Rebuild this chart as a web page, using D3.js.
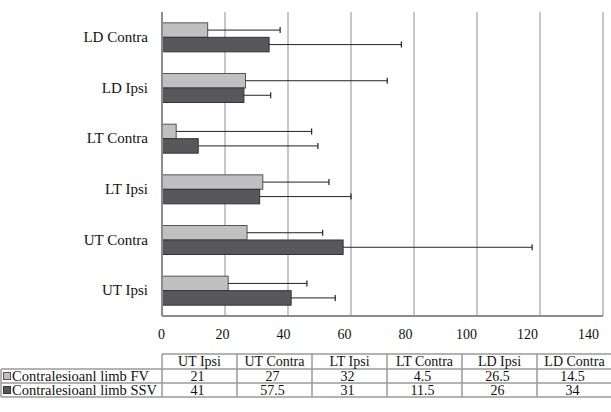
<!DOCTYPE html>
<meta charset="utf-8">
<style>
  body { margin: 0; background: #fff; }
  text { font-family: "Liberation Serif", "Times New Roman", serif; fill: #111; }
</style>
<body>
  <script src="https://cdn.jsdelivr.net/npm/d3@7"></script>
  <script>
    // data
    var categories = ["UT Ipsi", "UT Contra", "LT Ipsi", "LT Contra", "LD Ipsi", "LD Contra"];
    var seriesNames = ["Contralesioanl limb FV", "Contralesioanl limb SSV"];
    var fvValues = [21, 27, 32, 4.5, 26.5, 14.5];
    var ssvValues = [41, 57.5, 31, 11.5, 26, 34];
    var fvErr = [25, 24, 21, 43, 45, 23];
    var ssvErr = [14, 60, 29, 38, 8.5, 42];
    var xTicks = [0, 20, 40, 60, 80, 100, 120, 140];
    var colors = ["#c0c0c0", "#58585c"];
    var strokes = ["#555555", "#333333"];

    var width = 611, height = 412;
    var plot = { left: 162, right: 603, top: 12, bottom: 316 };

    var svg = d3.select("body").append("svg")
      .attr("width", width)
      .attr("height", height);

    var x = d3.scaleLinear().domain([0, 140]).range([plot.left, plot.right]);
    // tick labels sit a little left of the gridlines in the original
    var xLabel = d3.scaleLinear().domain([0, 140]).range([161, 588]);

    var y = d3.scaleBand()
      .domain(categories.slice().reverse())
      .range([plot.top, plot.bottom])
      .paddingInner(0.4276)
      .paddingOuter(0.2138);

    var ySub = d3.scaleBand().domain([0, 1]).range([0, y.bandwidth()]);

    // gridlines
    svg.append("g")
      .selectAll("line")
      .data(xTicks.slice(1))
      .enter().append("line")
      .attr("x1", function(d) { return x(d); })
      .attr("x2", function(d) { return x(d); })
      .attr("y1", plot.top)
      .attr("y2", plot.bottom)
      .style("stroke", "#b4b4b4")
      .style("stroke-width", 1.5);

    // x axis labels
    var xAxis = svg.append("g")
      .attr("transform", "translate(0," + (plot.bottom + 10) + ")")
      .call(d3.axisBottom(xLabel).tickValues(xTicks).tickSize(0).tickPadding(0));
    xAxis.select(".domain").remove();
    xAxis.selectAll("text")
      .attr("dy", "0.95em")
      .style("font-size", "14px")
      .style("font-family", "'Liberation Serif', serif")
      .style("fill", "#111");

    // y axis labels
    var yAxis = svg.append("g")
      .attr("transform", "translate(" + (plot.left - 14) + ",0)")
      .call(d3.axisLeft(y).tickSize(0).tickPadding(0));
    yAxis.select(".domain").remove();
    yAxis.selectAll("text")
      .style("font-size", "15px")
      .style("font-family", "'Liberation Serif', serif")
      .style("fill", "#111");

    var series = [
      { values: fvValues, err: fvErr },
      { values: ssvValues, err: ssvErr }
    ];

    series.forEach(function(s, si) {
      var g = svg.append("g");
      var rows = categories.map(function(c, i) {
        return { cat: c, v: s.values[i], e: s.err[i] };
      });

      g.selectAll("rect")
        .data(rows)
        .enter().append("rect")
        .attr("x", x(0))
        .attr("y", function(d) { return y(d.cat) + ySub(si); })
        .attr("width", function(d) { return x(d.v) - x(0); })
        .attr("height", ySub.bandwidth())
        .style("fill", colors[si])
        .style("stroke", strokes[si])
        .style("stroke-width", 1);

      var eb = g.selectAll(".err")
        .data(rows)
        .enter().append("g")
        .attr("class", "err")
        .attr("transform", function(d) {
          return "translate(0," + (y(d.cat) + ySub(si) + ySub.bandwidth() / 2) + ")";
        });

      eb.append("line")
        .attr("x1", function(d) { return x(d.v); })
        .attr("x2", function(d) { return x(d.v + d.e); })
        .style("stroke", "#222")
        .style("stroke-width", 1);

      eb.append("line")
        .attr("x1", function(d) { return x(d.v + d.e); })
        .attr("x2", function(d) { return x(d.v + d.e); })
        .attr("y1", -3)
        .attr("y2", 3)
        .style("stroke", "#222")
        .style("stroke-width", 1.2);
    });

    // axis lines
    svg.append("line")
      .attr("x1", plot.left).attr("x2", plot.left)
      .attr("y1", plot.top).attr("y2", plot.bottom)
      .style("stroke", "#8c8c8c").style("stroke-width", 2);
    svg.append("line")
      .attr("x1", plot.left).attr("x2", plot.right)
      .attr("y1", plot.bottom).attr("y2", plot.bottom)
      .style("stroke", "#8c8c8c").style("stroke-width", 2);

    // data table
    var colW = 75;
    var rowY = [354, 369, 383, 397];
    var tbl = svg.append("g");
    var lineStyle = function(sel) {
      sel.style("stroke", "#9a9a9a").style("stroke-width", 1.5);
    };

    // horizontal lines
    tbl.append("line").attr("x1", plot.left).attr("x2", plot.left + colW * 6)
      .attr("y1", rowY[0]).attr("y2", rowY[0]).call(lineStyle);
    [1, 2, 3].forEach(function(r) {
      tbl.append("line").attr("x1", 1).attr("x2", plot.left + colW * 6)
        .attr("y1", rowY[r]).attr("y2", rowY[r]).call(lineStyle);
    });
    // vertical lines
    tbl.append("line").attr("x1", 1).attr("x2", 1)
      .attr("y1", rowY[1]).attr("y2", rowY[3]).call(lineStyle);
    d3.range(7).forEach(function(i) {
      tbl.append("line")
        .attr("x1", plot.left + i * colW).attr("x2", plot.left + i * colW)
        .attr("y1", rowY[0]).attr("y2", rowY[3]).call(lineStyle);
    });

    // header
    tbl.selectAll(".hdr")
      .data(categories)
      .enter().append("text")
      .attr("class", "hdr")
      .attr("x", function(d, i) { return plot.left + i * colW + colW / 2; })
      .attr("y", (rowY[0] + rowY[1]) / 2)
      .attr("dy", "0.35em")
      .attr("text-anchor", "middle")
      .style("font-size", "14px")
      .text(function(d) { return d; });

    series.forEach(function(s, si) {
      var cy = (rowY[si + 1] + rowY[si + 2]) / 2;
      tbl.append("rect")
        .attr("x", 3.5).attr("y", cy - 3.5)
        .attr("width", 7).attr("height", 7)
        .style("fill", colors[si])
        .style("stroke", strokes[si])
        .style("stroke-width", 1);
      tbl.append("text")
        .attr("x", 12)
        .attr("y", cy)
        .attr("dy", "0.35em")
        .style("font-size", "14.5px")
        .text(seriesNames[si]);
      tbl.selectAll(".v" + si)
        .data(s.values)
        .enter().append("text")
        .attr("class", "v" + si)
        .attr("x", function(d, i) { return plot.left + i * colW + colW / 2 - 2; })
        .attr("y", cy)
        .attr("dy", "0.35em")
        .attr("text-anchor", "middle")
        .style("font-size", "14px")
        .text(function(d) { return d; });
    });
  </script>
</body>
</html>
